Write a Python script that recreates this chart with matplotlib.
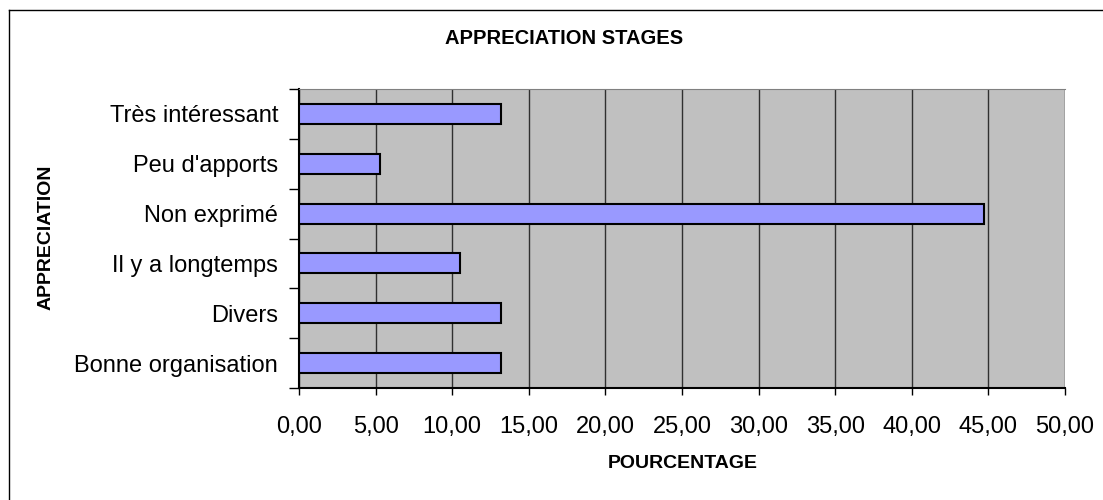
import numpy as np
import matplotlib.pyplot as plt
from matplotlib.lines import Line2D

# Données
categories = ['Bonne organisation', 'Divers', 'Il y a longtemps',
              'Non exprimé', "Peu d'apports", 'Très intéressant']
pourcentages = [13.16, 13.16, 10.53, 44.74, 5.26, 13.16]
ticks_x = [0, 5, 10, 15, 20, 25, 30, 35, 40, 45, 50]

plt.rcParams['font.family'] = ['Liberation Sans', 'DejaVu Sans']

fig = plt.figure(figsize=(11.03, 5), dpi=100)
ax = fig.add_axes([0.2711, 0.224, 0.6945, 0.598])

y = np.arange(len(categories))
ax.barh(y, pourcentages, height=0.4, color='#9999ff', edgecolor='black',
        linewidth=1.5, zorder=3)

ax.set_facecolor('#c0c0c0')
ax.set_xlim(0, 50)
ax.set_ylim(-0.5, len(categories) - 0.5)
ax.set_xticks(ticks_x)
ax.set_xticklabels([f'{v:.2f}'.replace('.', ',') for v in ticks_x], fontsize=17)
ax.xaxis.grid(True, color='#303030', linewidth=1, zorder=1)

# Graduations de l'axe Y entre les catégories
ax.set_yticks(y)
ax.set_yticklabels(categories, fontsize=17)
ax.tick_params(axis='y', length=0, pad=15)
ax.set_yticks(np.arange(-0.5, len(categories)), minor=True)
ax.tick_params(axis='y', which='minor', length=7, width=1, direction='out')
ax.tick_params(axis='x', length=5, width=1, direction='out', pad=15.5)

ax.spines['right'].set_visible(False)
ax.spines['top'].set_color('#808080')
ax.spines['left'].set_linewidth(1.5)
ax.spines['bottom'].set_linewidth(1.5)

fig.text(0.511, 0.924, 'APPRECIATION STAGES', ha='center', va='center',
         fontsize=14.5, fontweight='bold')
fig.text(0.619, 0.074, 'POURCENTAGE', ha='center', va='center',
         fontsize=14, fontweight='bold')
fig.text(0.042, 0.526, 'APPRECIATION', ha='center', va='center',
         fontsize=14, fontweight='bold', rotation=90)

# Cadre du graphique
fig.add_artist(Line2D([0.0082, 0.0082], [0, 0.98], transform=fig.transFigure,
                      color='black', linewidth=1))
fig.add_artist(Line2D([0.0082, 1], [0.98, 0.98], transform=fig.transFigure,
                      color='black', linewidth=1))

plt.savefig('out.png', dpi=100)
